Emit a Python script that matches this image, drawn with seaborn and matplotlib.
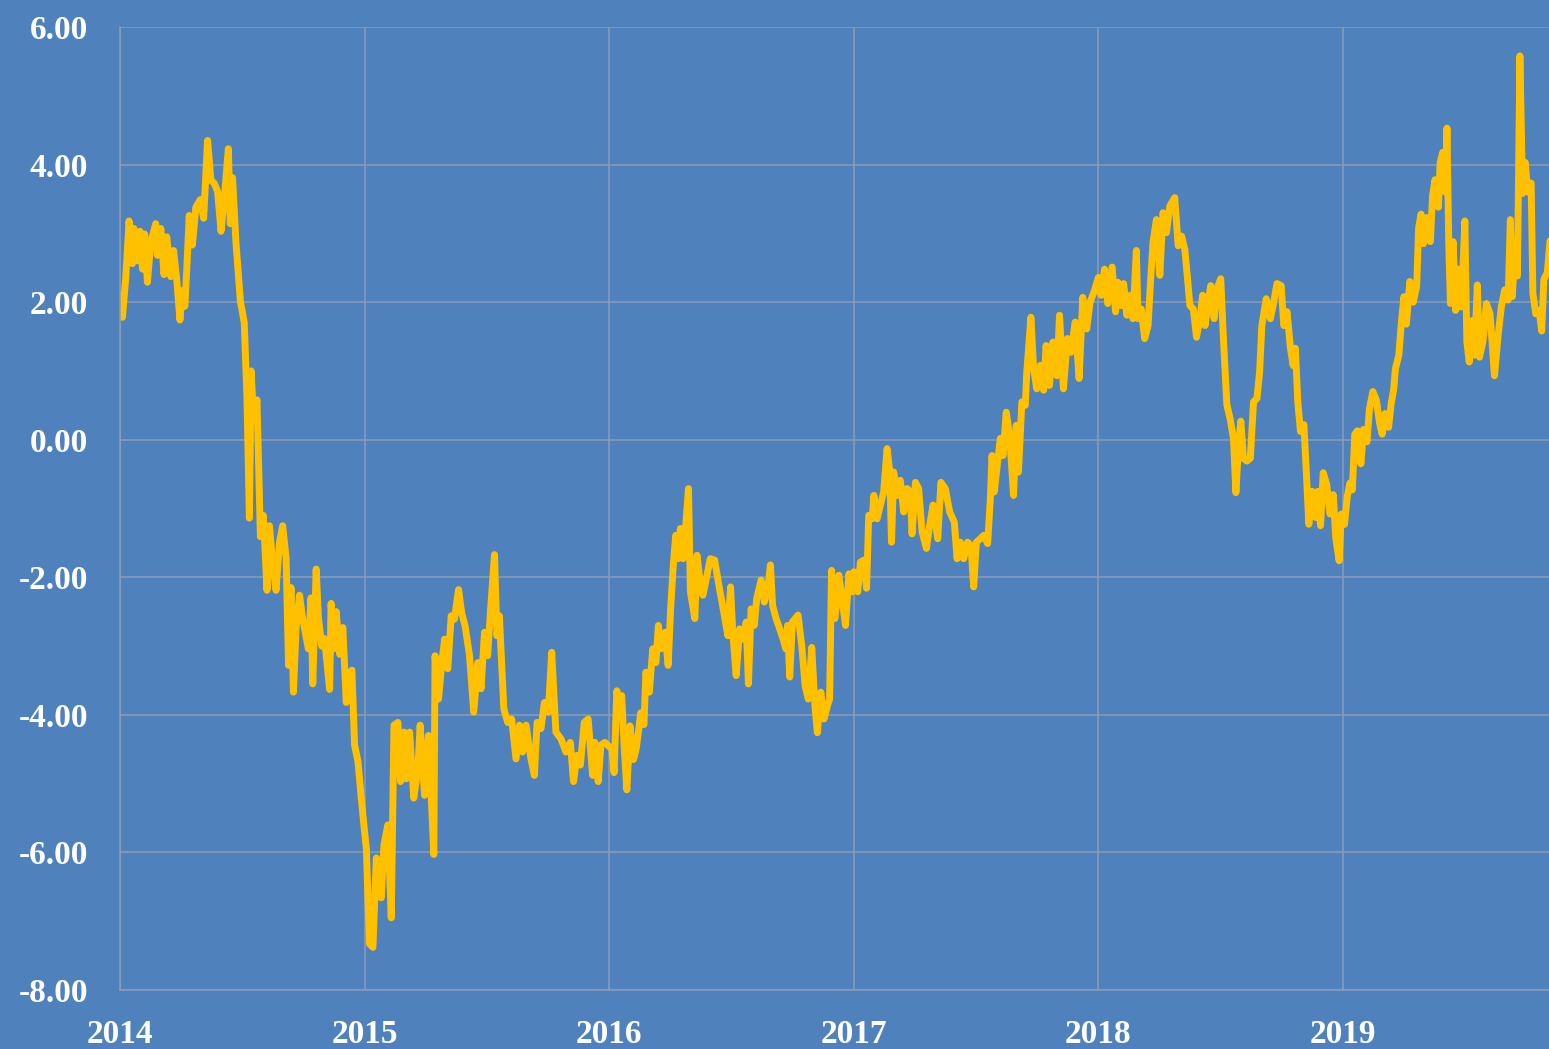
import pandas as pd
import seaborn as sns
import matplotlib.pyplot as plt
from matplotlib.ticker import FormatStrFormatter

# offsets within each calendar year (fraction of a year) and the value
t_2014 = [0.000, 0.010, 0.023, 0.037, 0.051, 0.057, 0.071, 0.082, 0.092, 0.101,
          0.112, 0.126, 0.146, 0.153, 0.167, 0.180, 0.191, 0.208, 0.219, 0.232,
          0.245, 0.255, 0.265, 0.273, 0.283, 0.296, 0.310, 0.328, 0.342, 0.358,
          0.372, 0.385, 0.399, 0.413, 0.426, 0.443, 0.451, 0.460, 0.474, 0.492,
          0.508, 0.519, 0.529, 0.536, 0.546, 0.560, 0.574, 0.586, 0.601, 0.611,
          0.624, 0.638, 0.652, 0.665, 0.679, 0.689, 0.699, 0.709, 0.720, 0.734,
          0.747, 0.770, 0.781, 0.788, 0.802, 0.811, 0.825, 0.836, 0.857, 0.863,
          0.874, 0.884, 0.898, 0.911, 0.925, 0.939, 0.948, 0.959, 0.973, 0.986]
v_2014 = [2.10, 1.78, 2.33, 3.18, 2.56, 3.07, 2.60, 3.03, 2.48, 2.99,
          2.29, 2.87, 3.14, 2.68, 3.07, 2.40, 2.95, 2.37, 2.75, 2.33,
          1.74, 2.17, 1.94, 2.48, 3.26, 2.83, 3.38, 3.49, 3.22, 4.35,
          3.77, 3.73, 3.61, 3.03, 3.49, 4.23, 3.14, 3.81, 2.87, 2.02,
          1.70, 0.61, -1.14, 1.00, 0.30, 0.58, -1.41, -1.10, -2.19, -1.25,
          -1.80, -2.19, -1.49, -1.25, -1.72, -3.28, -2.15, -3.67, -2.73, -2.26,
          -2.61, -3.04, -2.30, -3.55, -1.88, -2.58, -3.00, -2.89, -3.63, -2.38,
          -3.04, -2.50, -3.12, -2.73, -3.82, -3.39, -3.35, -4.44, -4.68, -5.20]

t_2015 = [-0.003, 0.007, 0.020, 0.034, 0.048, 0.057, 0.068, 0.079, 0.095, 0.109,
          0.120, 0.136, 0.147, 0.161, 0.170, 0.184, 0.201, 0.218, 0.227, 0.245,
          0.261, 0.283, 0.288, 0.302, 0.316, 0.327, 0.340, 0.354, 0.367, 0.384,
          0.397, 0.411, 0.429, 0.446, 0.463, 0.476, 0.490, 0.503, 0.514, 0.531,
          0.541, 0.551, 0.569, 0.585, 0.601, 0.619, 0.633, 0.646, 0.660, 0.680,
          0.694, 0.705, 0.721, 0.735, 0.751, 0.765, 0.782, 0.803, 0.823, 0.841,
          0.854, 0.868, 0.882, 0.898, 0.914, 0.932, 0.941, 0.955, 0.966, 0.982]
v_2015 = [-5.60, -5.94, -7.33, -7.38, -6.08, -6.52, -6.66, -5.89, -5.60, -6.95,
          -4.15, -4.11, -4.97, -4.25, -4.93, -4.25, -5.21, -4.78, -4.15, -5.17,
          -4.30, -6.03, -3.14, -3.77, -3.24, -2.90, -3.33, -2.56, -2.61, -2.18,
          -2.52, -2.71, -3.14, -3.96, -3.24, -3.62, -2.80, -3.14, -2.52, -1.67,
          -2.85, -2.56, -3.91, -4.11, -4.06, -4.64, -4.15, -4.54, -4.15, -4.64,
          -4.88, -4.11, -4.20, -3.82, -3.96, -3.09, -4.25, -4.35, -4.54, -4.40,
          -4.97, -4.59, -4.73, -4.11, -4.06, -4.88, -4.40, -4.97, -4.44, -4.40]

t_2016 = [0.011, 0.020, 0.031, 0.042, 0.051, 0.061, 0.072, 0.085, 0.099, 0.110,
          0.119, 0.129, 0.142, 0.150, 0.164, 0.178, 0.191, 0.201, 0.210, 0.228,
          0.241, 0.251, 0.262, 0.272, 0.282, 0.291, 0.302, 0.313, 0.324, 0.332,
          0.350, 0.359, 0.370, 0.383, 0.397, 0.413, 0.431, 0.451, 0.467, 0.485,
          0.496, 0.505, 0.519, 0.533, 0.549, 0.560, 0.569, 0.580, 0.593, 0.603,
          0.621, 0.634, 0.648, 0.659, 0.668, 0.682, 0.695, 0.711, 0.722, 0.729,
          0.738, 0.749, 0.772, 0.787, 0.801, 0.814, 0.828, 0.841, 0.851, 0.865,
          0.878, 0.892, 0.901, 0.909, 0.923, 0.939, 0.955, 0.966, 0.980, 0.996]
v_2016 = [-4.50, -4.84, -3.65, -3.92, -3.72, -4.45, -5.09, -4.16, -4.65, -4.50,
          -4.26, -3.97, -4.14, -3.38, -3.67, -3.04, -3.24, -2.70, -3.04, -2.80,
          -3.28, -2.46, -1.82, -1.39, -1.73, -1.29, -1.73, -1.24, -0.71, -2.21,
          -2.60, -1.68, -2.02, -2.26, -2.02, -1.73, -1.75, -2.17, -2.48, -2.85,
          -2.14, -2.80, -3.43, -2.75, -2.90, -2.65, -3.55, -2.46, -2.70, -2.31,
          -2.04, -2.36, -2.17, -1.82, -2.41, -2.60, -2.73, -2.90, -3.04, -2.70,
          -3.45, -2.65, -2.55, -2.99, -3.58, -3.77, -3.02, -3.87, -4.26, -3.67,
          -4.06, -3.87, -3.77, -1.90, -2.60, -1.97, -2.41, -2.70, -1.95, -2.21]

t_2017 = [0.000, 0.016, 0.027, 0.041, 0.052, 0.061, 0.075, 0.082, 0.095, 0.109,
          0.122, 0.136, 0.147, 0.154, 0.163, 0.177, 0.190, 0.204, 0.218, 0.231,
          0.238, 0.252, 0.265, 0.279, 0.297, 0.310, 0.324, 0.343, 0.356, 0.374,
          0.392, 0.411, 0.422, 0.435, 0.449, 0.465, 0.479, 0.490, 0.501, 0.517,
          0.531, 0.547, 0.558, 0.565, 0.574, 0.588, 0.599, 0.610, 0.623, 0.637,
          0.653, 0.664, 0.673, 0.687, 0.701, 0.707, 0.724, 0.735, 0.748, 0.762,
          0.776, 0.786, 0.800, 0.814, 0.830, 0.841, 0.857, 0.873, 0.887, 0.905,
          0.921, 0.936, 0.952, 0.966, 0.982]
v_2017 = [-1.92, -2.21, -1.78, -1.75, -2.16, -1.10, -1.15, -0.81, -1.15, -0.95,
          -0.76, -0.13, -0.47, -1.49, -0.47, -0.81, -0.59, -1.05, -0.71, -0.76,
          -1.37, -0.62, -0.71, -1.34, -1.58, -1.24, -0.95, -1.44, -0.62, -0.71,
          -1.05, -1.20, -1.73, -1.49, -1.73, -1.49, -1.54, -2.14, -1.49, -1.44,
          -1.39, -1.51, -0.86, -0.23, -0.76, -0.32, 0.02, -0.23, 0.40, 0.06,
          -0.81, 0.21, -0.47, 0.55, 0.50, 0.98, 1.78, 1.03, 0.74, 1.08,
          0.72, 1.37, 0.79, 1.42, 0.93, 1.81, 0.74, 1.47, 1.27, 1.71,
          0.89, 2.07, 1.61, 2.00, 2.15]

t_2018 = [0.000, 0.011, 0.025, 0.038, 0.056, 0.070, 0.079, 0.093, 0.103, 0.116,
          0.130, 0.141, 0.155, 0.162, 0.175, 0.189, 0.203, 0.212, 0.223, 0.237,
          0.251, 0.264, 0.278, 0.292, 0.312, 0.326, 0.340, 0.353, 0.363, 0.374,
          0.388, 0.401, 0.415, 0.426, 0.436, 0.449, 0.459, 0.473, 0.484, 0.500,
          0.511, 0.525, 0.538, 0.552, 0.562, 0.573, 0.582, 0.593, 0.607, 0.621,
          0.634, 0.648, 0.659, 0.668, 0.686, 0.703, 0.714, 0.730, 0.747, 0.758,
          0.771, 0.785, 0.796, 0.805, 0.815, 0.826, 0.840, 0.851, 0.860, 0.874,
          0.888, 0.897, 0.908, 0.919, 0.933, 0.947, 0.960, 0.970, 0.984, 0.993]
v_2018 = [2.36, 2.10, 2.48, 1.98, 2.51, 1.86, 2.29, 1.95, 2.27, 1.81,
          2.10, 1.76, 2.75, 1.76, 1.90, 1.47, 1.66, 2.24, 2.87, 3.20,
          2.39, 3.30, 3.01, 3.40, 3.52, 2.82, 2.96, 2.77, 2.39, 1.95,
          1.90, 1.49, 1.76, 2.10, 1.66, 2.00, 2.24, 1.76, 2.19, 2.34,
          1.47, 0.51, 0.31, 0.02, -0.77, -0.07, 0.27, -0.27, -0.31, -0.27,
          0.55, 0.60, 0.99, 1.66, 2.05, 1.76, 1.95, 2.27, 2.24, 1.66,
          1.86, 1.33, 1.08, 1.33, 0.55, 0.12, 0.22, -0.55, -1.23, -0.75,
          -1.13, -0.75, -1.25, -0.48, -0.65, -1.08, -0.80, -1.42, -1.76, -1.08]

t_2019 = [0.006, 0.017, 0.028, 0.038, 0.048, 0.059, 0.073, 0.084, 0.098, 0.108,
          0.122, 0.136, 0.150, 0.160, 0.172, 0.186, 0.197, 0.207, 0.214, 0.228,
          0.239, 0.249, 0.259, 0.273, 0.287, 0.301, 0.309, 0.319, 0.329, 0.343,
          0.357, 0.366, 0.376, 0.390, 0.397, 0.408, 0.418, 0.425, 0.432, 0.439,
          0.450, 0.460, 0.470, 0.481, 0.488, 0.498, 0.506, 0.516, 0.526, 0.537,
          0.549, 0.558, 0.572, 0.586, 0.601, 0.619, 0.633, 0.647, 0.661, 0.675,
          0.684, 0.692, 0.703, 0.713, 0.723, 0.734, 0.745, 0.755, 0.769, 0.776,
          0.788, 0.802, 0.812, 0.821, 0.835, 0.847, 0.861, 0.871]
v_2019 = [-1.23, -0.83, -0.63, -0.73, 0.08, 0.13, -0.35, 0.15, -0.03, 0.45,
          0.70, 0.58, 0.23, 0.08, 0.38, 0.18, 0.53, 0.73, 1.03, 1.23,
          1.73, 2.08, 1.68, 2.30, 2.00, 2.23, 3.08, 3.28, 2.85, 3.23,
          2.88, 3.55, 3.78, 3.38, 4.03, 4.18, 3.60, 4.53, 2.88, 1.98,
          2.88, 1.88, 2.48, 1.93, 2.28, 3.18, 1.43, 1.13, 1.73, 1.23,
          2.25, 1.20, 1.43, 1.98, 1.83, 0.93, 1.48, 1.93, 2.18, 2.03,
          3.20, 2.08, 2.83, 2.38, 5.58, 3.58, 4.03, 3.60, 3.73, 2.13,
          1.83, 1.88, 1.58, 2.33, 2.43, 2.93, 3.18, 3.23]

years = [2014, 2015, 2016, 2017, 2018, 2019]
offsets = [t_2014, t_2015, t_2016, t_2017, t_2018, t_2019]
values = [v_2014, v_2015, v_2016, v_2017, v_2018, v_2019]
y_ticks = [-8, -6, -4, -2, 0, 2, 4, 6]

bg = "#4F81BD"
grid_col = "#8D9CB4"
line_col = "#FFC000"

frames = []
for yr, t, v in zip(years, offsets, values):
    frames.append(pd.DataFrame({"date": [yr + x for x in t], "value": v}))
df = pd.concat(frames, ignore_index=True)

sns.set_style("whitegrid", {"axes.facecolor": bg, "figure.facecolor": bg,
                            "grid.color": grid_col, "axes.edgecolor": grid_col})
plt.rcParams["font.family"] = ["Liberation Serif", "DejaVu Serif"]
plt.rcParams["axes.unicode_minus"] = False

fig = plt.figure(figsize=(15.49, 10.49), dpi=100)
ax = fig.add_axes([120 / 1549, 59 / 1049, 1429 / 1549, 963 / 1049])

sns.lineplot(data=df, x="date", y="value", ax=ax, color=line_col, lw=5,
             sort=False, estimator=None)

ax.set_xlim(2014, 2019.842)
ax.set_ylim(-8, 6)
ax.set_xticks(years)
ax.set_yticks(y_ticks)
ax.xaxis.set_major_formatter(FormatStrFormatter("%d"))
ax.yaxis.set_major_formatter(FormatStrFormatter("%.2f"))
ax.grid(True, color=grid_col, lw=1.1)
ax.set_xlabel("")
ax.set_ylabel("")

for side in ["top", "right"]:
    ax.spines[side].set_visible(False)
for side in ["left", "bottom"]:
    ax.spines[side].set_color(grid_col)
    ax.spines[side].set_linewidth(1.1)

ax.tick_params(axis="both", length=0, labelsize=24, labelcolor="white")
ax.tick_params(axis="y", pad=23)
ax.tick_params(axis="x", pad=21)
for lab in ax.get_xticklabels() + ax.get_yticklabels():
    lab.set_fontweight("bold")

fig.savefig("out.png", dpi=100, facecolor=bg)
